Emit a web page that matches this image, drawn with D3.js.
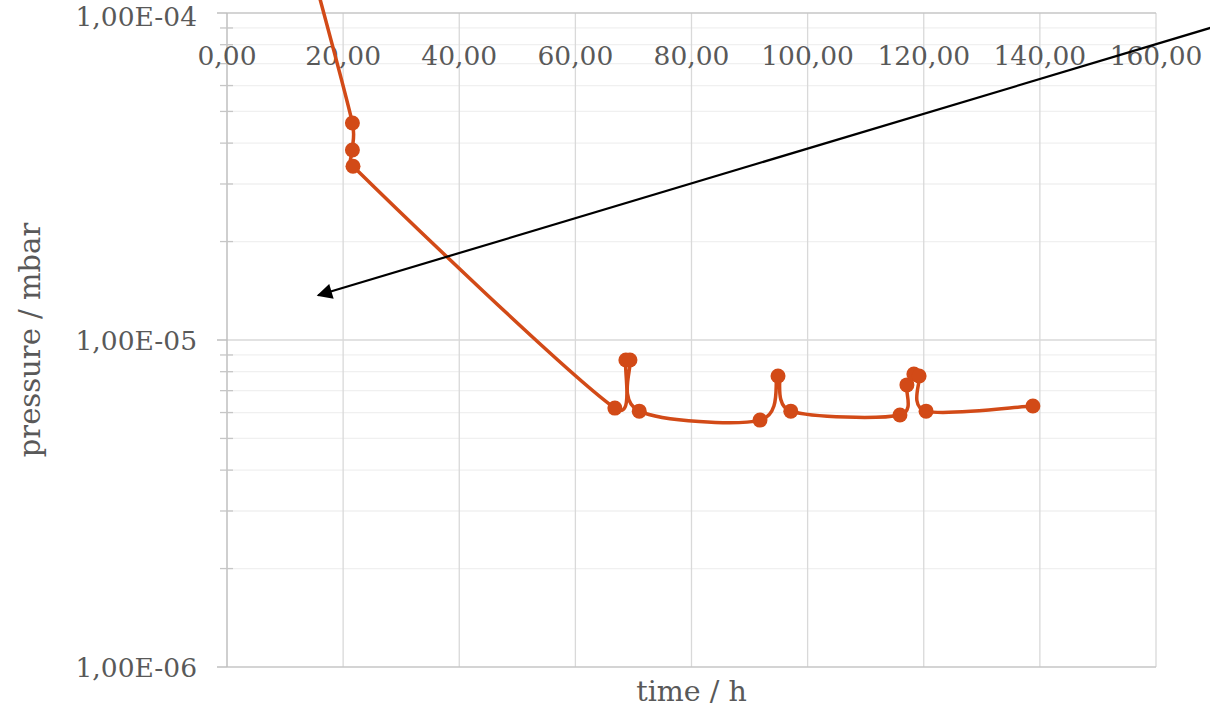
<!DOCTYPE html>
<html>
<head>
<meta charset="utf-8">
<script src="https://cdn.jsdelivr.net/npm/d3@7"></script>
<style>
  html, body { margin: 0; padding: 0; background: #fff; }
  svg { display: block; }
</style>
</head>
<body>
<svg id="chart" width="1210" height="708"></svg>
<script>
// ---- data ----
const timeH = [14.0, 21.6, 21.6, 21.7, 66.8, 68.7, 69.4, 71.0, 91.8, 94.9, 97.1, 115.9, 117.1, 118.3, 119.2, 120.4, 138.8];
const pressureMbar = [1.5e-4, 4.61e-5, 3.81e-5, 3.40e-5, 6.19e-6, 8.69e-6, 8.69e-6, 6.06e-6, 5.69e-6, 7.76e-6, 6.06e-6, 5.90e-6, 7.29e-6, 7.87e-6, 7.76e-6, 6.06e-6, 6.28e-6];
const xTicks = [0, 20, 40, 60, 80, 100, 120, 140, 160];
const yTicks = [1e-6, 1e-5, 1e-4];
const arrowFrom = { t: 172, p: 9.3e-5 };
const arrowTo = { t: 15.7, p: 1.37e-5 };

const fmtX = d => d3.format(".2f")(d).replace(".", ",");
const fmtY = d => {
  const e = Math.round(Math.log10(d));
  const m = d / Math.pow(10, e);
  return m.toFixed(2).replace(".", ",") + "E-" + String(-e).padStart(2, "0");
};

const svg = d3.select("#chart");
const L = 227, R = 1156, T = 13, B = 667;
const x = d3.scaleLinear().domain([0, 160]).range([L, R]);
const y = d3.scaleLog().domain([1e-6, 1e-4]).range([B, T]);

const font = "'DejaVu Serif', serif";
const grey = "#595959";

// minor horizontal gridlines
const minor = [];
[1e-6, 1e-5].forEach(base => { for (let k = 2; k <= 9; k++) minor.push(base * k); });
svg.append("g").selectAll("line").data(minor).join("line")
  .attr("x1", L).attr("x2", R)
  .attr("y1", d => y(d)).attr("y2", d => y(d))
  .attr("stroke", "#f0f0f0").attr("stroke-width", 1.3);

// major horizontal gridline
svg.append("g").selectAll("line").data([1e-5]).join("line")
  .attr("x1", L).attr("x2", R)
  .attr("y1", d => y(d)).attr("y2", d => y(d))
  .attr("stroke", "#d9d9d9").attr("stroke-width", 1.3);

// vertical gridlines
svg.append("g").selectAll("line").data(xTicks.slice(1)).join("line")
  .attr("x1", d => x(d)).attr("x2", d => x(d))
  .attr("y1", T).attr("y2", B)
  .attr("stroke", "#d9d9d9").attr("stroke-width", 1.3);

// top frame & bottom line
svg.append("line").attr("x1", L).attr("x2", R).attr("y1", y(1e-4)).attr("y2", y(1e-4))
  .attr("stroke", "#c6c6c6").attr("stroke-width", 1.5);
svg.append("line").attr("x1", L).attr("x2", R).attr("y1", y(1e-6)).attr("y2", y(1e-6))
  .attr("stroke", "#c6c6c6").attr("stroke-width", 1.5);

// left axis line + ticks
svg.append("line").attr("x1", L).attr("x2", L).attr("y1", T).attr("y2", B)
  .attr("stroke", "#bfbfbf").attr("stroke-width", 1.5);
svg.append("g").selectAll("line").data(minor).join("line")
  .attr("x1", L - 7).attr("x2", L + 6)
  .attr("y1", d => y(d)).attr("y2", d => y(d))
  .attr("stroke", "#c6c6c6").attr("stroke-width", 1.3);
svg.append("g").selectAll("line").data(yTicks).join("line")
  .attr("x1", L - 10).attr("x2", L)
  .attr("y1", d => y(d)).attr("y2", d => y(d))
  .attr("stroke", "#bfbfbf").attr("stroke-width", 1.5);

// y tick labels
svg.append("g").selectAll("text").data(yTicks).join("text")
  .attr("x", L - 30).attr("y", d => y(d) + (d === 1e-4 ? 3 : 0)).attr("dy", "0.36em")
  .attr("text-anchor", "end")
  .attr("font-family", font).attr("font-size", 26.5).attr("fill", grey)
  .text(fmtY);

// x tick labels (drawn inside top of plot)
svg.append("g").selectAll("text").data(xTicks).join("text")
  .attr("x", d => x(d)).attr("y", 65)
  .attr("text-anchor", "middle")
  .attr("font-family", font).attr("font-size", 26.5).attr("fill", grey)
  .text(fmtX);

// axis titles
svg.append("text").attr("x", x(80)).attr("y", 701)
  .attr("text-anchor", "middle")
  .attr("font-family", font).attr("font-size", 28.5).attr("fill", grey)
  .text("time / h");
svg.append("text")
  .attr("transform", `translate(40,${y(1e-5)}) rotate(-90)`)
  .attr("text-anchor", "middle")
  .attr("font-family", font).attr("font-size", 29).attr("fill", grey)
  .text("pressure / mbar");

// series: spreadsheet-style smoothed line (Catmull-Rom 1/6 tangents, clamped by segment length)
const pts = timeH.map((t, i) => [t, pressureMbar[i]]);
const sp = pts.map(d => [x(d[0]), y(d[1])]);
function tangent(i) {
  const a = sp[Math.max(0, i - 1)], b = sp[Math.min(sp.length - 1, i + 1)];
  return [(b[0] - a[0]) / 6, (b[1] - a[1]) / 6];
}
function clampVec(v, maxLen) {
  const l = Math.hypot(v[0], v[1]);
  if (l <= maxLen || l === 0) return v;
  return [v[0] * maxLen / l, v[1] * maxLen / l];
}
const path = d3.path();
path.moveTo(sp[0][0], sp[0][1]);
for (let i = 0; i < sp.length - 1; i++) {
  const p0 = sp[i], p1 = sp[i + 1];
  const seg = Math.hypot(p1[0] - p0[0], p1[1] - p0[1]);
  const t0 = clampVec(tangent(i), seg * 0.5);
  const t1 = clampVec(tangent(i + 1), seg * 0.5);
  path.bezierCurveTo(p0[0] + t0[0], p0[1] + t0[1], p1[0] - t1[0], p1[1] - t1[1], p1[0], p1[1]);
}
const color = "#d24a17";
svg.append("path").attr("d", path.toString())
  .attr("fill", "none").attr("stroke", color).attr("stroke-width", 3.5)
  .attr("stroke-linejoin", "round");
svg.append("g").selectAll("circle").data(pts.slice(1)).join("circle")
  .attr("cx", d => x(d[0])).attr("cy", d => y(d[1])).attr("r", 7.5)
  .attr("fill", color);

// arrow annotation
const defs = svg.append("defs");
defs.append("marker").attr("id", "ah").attr("viewBox", "0 0 10 10")
  .attr("refX", 9).attr("refY", 5).attr("markerWidth", 9).attr("markerHeight", 7)
  .attr("markerUnits", "strokeWidth").attr("orient", "auto")
  .append("path").attr("d", "M0,0 L10,5 L0,10 Z").attr("fill", "#000");
svg.append("line")
  .attr("x1", x(arrowFrom.t)).attr("y1", y(arrowFrom.p))
  .attr("x2", x(arrowTo.t)).attr("y2", y(arrowTo.p))
  .attr("stroke", "#000").attr("stroke-width", 2.2)
  .attr("marker-end", "url(#ah)");
</script>
</body>
</html>
